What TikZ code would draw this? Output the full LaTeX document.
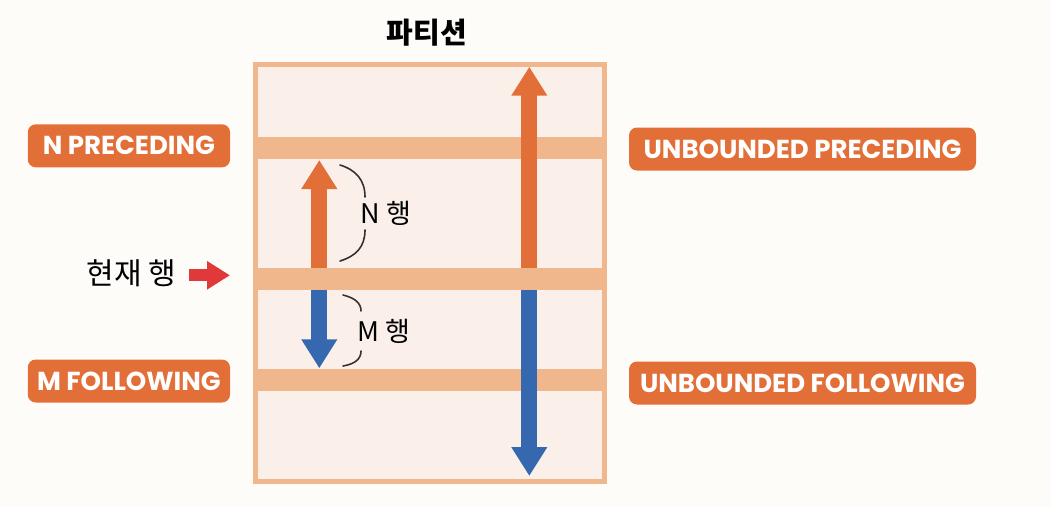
\documentclass[tikz,border=0pt]{standalone}
\usepackage{fontspec}
\usetikzlibrary{arrows.meta}
\newfontfamily\krfont{Noto Sans CJK KR}
\newfontfamily\labfont{Poppins}
\definecolor{bgc}{HTML}{FEFCF9}
\definecolor{bandc}{HTML}{F0B68C}
\definecolor{cellc}{HTML}{FAF0E9}
\definecolor{orc}{HTML}{E36F38}
\definecolor{blc}{HTML}{3568AF}
\definecolor{redc}{HTML}{E0393A}
\definecolor{bracec}{HTML}{333333}
\tikzset{
  tag/.style={fill=orc, rounded corners=8pt, text=white, inner sep=0pt,
    minimum height=43pt, font=\labfont\bfseries\fontsize{26}{30}\selectfont},
  bigarrow/.style={line width=16pt, -{Triangle[width=34pt,length=29pt]}},
  bracket/.style={draw=bracec, line width=1.6pt, line cap=round},
  rowlabel/.style={inner sep=0pt, font=\krfont\fontsize{27}{30}\selectfont},
  band/.style={fill=bandc},
}
\begin{document}
\begin{tikzpicture}[x=1pt,y=-1pt]
\fill[bgc] (0,0) rectangle (1051,507);
\useasboundingbox (0,0) rectangle (1051,507);
% partition box
\draw[draw=bandc, fill=cellc, line width=5pt] (255.5,64.2) rectangle (604.2,481.5);
\fill[band] (253,137) rectangle (606.7,159);
\fill[band] (253,267.7) rectangle (606.7,290);
\fill[band] (253,369) rectangle (606.7,391);
% title
\node[inner sep=0pt, font=\krfont\bfseries\fontsize{29}{32}\selectfont] (title) at (426.7,33) {파티션};
% coordinates
\coordinate (sTop) at (319.3,160);
\coordinate (sCurU) at (319.3,267.7);
\coordinate (sCurD) at (319.3,290);
\coordinate (sBot) at (319.3,368.3);
\coordinate (bTop) at (529.3,66.7);
\coordinate (bCurU) at (529.3,267.7);
\coordinate (bCurD) at (529.3,290);
\coordinate (bBot) at (529.3,476);
% arrows
\draw[bigarrow, orc] (sCurU) -- (sTop);
\draw[bigarrow, blc] (sCurD) -- (sBot);
\draw[bigarrow, orc] (bCurU) -- (bTop);
\draw[bigarrow, blc] (bCurD) -- (bBot);
% braces
\draw[bracket] (340,165) .. controls (356,170) and (365,180) .. (365,197);
\draw[bracket] (365,230) .. controls (365,247) and (356,256) .. (340,261);
\draw[bracket] (343,295) .. controls (355,298) and (361,303) .. (361,311);
\draw[bracket] (361,351) .. controls (361,359) and (355,364) .. (343,366);
\node[rowlabel] (nrow) at (386,213) {N 행};
\node[rowlabel] (mrow) at (384,331) {M 행};
% current row
\node[inner sep=0pt, font=\krfont\fontsize{30}{34}\selectfont] (cur) at (131.5,273) {현재 행};
\coordinate (rA) at (189,275.3);
\coordinate (rB) at (230,275.3);
\draw[redc, line width=12pt, -{Triangle[width=27pt,length=23pt]}] (rA) -- (rB);
% tags
\node[tag, minimum width=202.3pt] (np) at (128.9,145.8) {N PRECEDING};
\node[tag, minimum width=202.3pt] (mf) at (128.9,381) {M FOLLOWING};
\node[tag, minimum width=347pt] (up) at (802.5,149) {UNBOUNDED PRECEDING};
\node[tag, minimum width=347pt] (uf) at (802.5,383) {UNBOUNDED FOLLOWING};
\end{tikzpicture}
\end{document}
